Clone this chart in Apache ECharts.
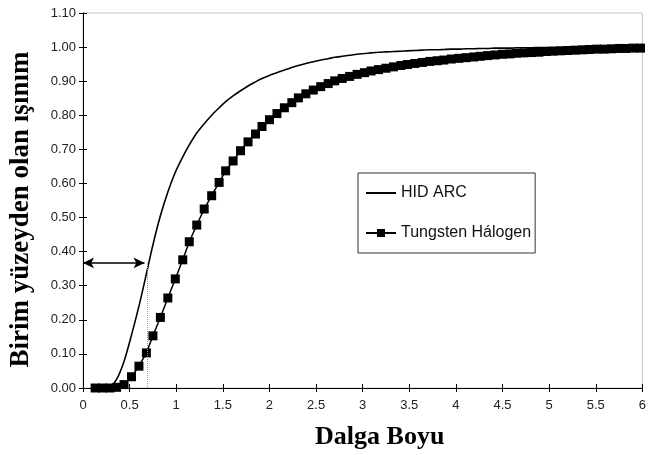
<!DOCTYPE html>
<html>
<head>
<meta charset="utf-8">
<title>Birim yüzeyden olan ışınım</title>
<script src="https://cdn.jsdelivr.net/npm/echarts@6/dist/echarts.min.js"></script>
<style>
  html, body { margin: 0; padding: 0; background: #fff; }
  #chart { width: 649px; height: 455px; }
</style>
</head>
<body>
<div id="chart"></div>
<script>
// dalga boyu (x) - ortak örnekleme noktaları
const waveLengths = [
  0.13, 0.21, 0.29, 0.36, 0.44, 0.52, 0.60, 0.68, 0.75, 0.83,
  0.91, 0.99, 1.07, 1.14, 1.22, 1.30, 1.38, 1.46, 1.53, 1.61,
  1.69, 1.77, 1.85, 1.92, 2.00, 2.08, 2.16, 2.24, 2.31, 2.39,
  2.47, 2.55, 2.63, 2.70, 2.78, 2.86, 2.94, 3.02, 3.09, 3.17,
  3.25, 3.33, 3.41, 3.48, 3.56, 3.64, 3.72, 3.80, 3.87, 3.95,
  4.03, 4.11, 4.19, 4.26, 4.34, 4.42, 4.50, 4.58, 4.65, 4.73,
  4.81, 4.89, 4.97, 5.04, 5.12, 5.20, 5.28, 5.36, 5.43, 5.51,
  5.59, 5.67, 5.75, 5.82, 5.90, 5.98
]

// HID ARC
const hidArc = [
  0, 0, 0.003, 0.025, 0.078, 0.155, 0.24, 0.335, 0.42, 0.505,
  0.575, 0.633, 0.678, 0.713, 0.748, 0.775, 0.80, 0.822, 0.840, 0.857,
  0.872, 0.886, 0.898, 0.908, 0.917, 0.925, 0.933, 0.940, 0.946, 0.952,
  0.957, 0.962, 0.966, 0.970, 0.973, 0.976, 0.979, 0.981, 0.983, 0.985,
  0.986, 0.987, 0.988, 0.989, 0.990, 0.991, 0.992, 0.992, 0.993, 0.994,
  0.994, 0.995, 0.995, 0.996, 0.996, 0.997, 0.997, 0.997, 0.998, 0.998,
  0.998, 0.999, 0.999, 0.999, 0.999, 1.0, 1.0, 1.0, 1.0, 1.0,
  1.0, 1.0, 1.0, 1.0, 1.0, 1.0
]

// Tungsten Hálogen
const tungsten = [
  0, 0, 0, 0.002, 0.01, 0.033, 0.064, 0.103, 0.153, 0.207,
  0.264, 0.32, 0.376, 0.429, 0.478, 0.525, 0.564, 0.603, 0.637, 0.666,
  0.696, 0.722, 0.745, 0.767, 0.787, 0.805, 0.822, 0.837, 0.851, 0.863,
  0.874, 0.884, 0.893, 0.901, 0.908, 0.914, 0.920, 0.925, 0.930, 0.934,
  0.938, 0.942, 0.946, 0.949, 0.952, 0.955, 0.958, 0.960, 0.962, 0.965,
  0.967, 0.969, 0.971, 0.973, 0.975, 0.977, 0.979, 0.980, 0.982, 0.983,
  0.984, 0.985, 0.987, 0.988, 0.989, 0.990, 0.991, 0.992, 0.993, 0.994,
  0.994, 0.995, 0.996, 0.996, 0.997, 0.997
]

// ok işareti: seviye, ok ucu ve noktalı dikey çizgi
const arrowLevel = [0.367]
const arrowSpan = [0, 0.66]
const dropLineX = [0.69]

const xTicks = { min: 0, max: 6, interval: 0.5 }
const yTicks = { min: 0, max: 1.1, interval: 0.1 }

const chart = echarts.init(document.getElementById("chart"))

const axisFont = { fontFamily: "Liberation Sans, Arial, sans-serif", fontSize: 13, color: "#222" }
const titleFont = { fontFamily: "Liberation Serif, Times New Roman, serif", fontWeight: "bold", color: "#000" }

const option = {
  animation: false,
  backgroundColor: "#fff",
  grid: {
    left: 83,
    right: 4,
    top: 13,
    bottom: 67,
    show: true,
    borderColor: "#c4c4c4",
    borderWidth: 1
  },
  legend: {
    orient: "vertical",
    left: 358,
    top: 173,
    padding: [12, 4, 12, 7],
    itemGap: 24,
    itemWidth: 30,
    itemHeight: 10,
    backgroundColor: "#fff",
    borderColor: "#333",
    borderWidth: 1,
    textStyle: { fontFamily: "Liberation Sans, Arial, sans-serif", fontSize: 16, color: "#111" },
    data: [
      { name: "HID ARC", itemStyle: { opacity: 0 } },
      { name: "Tungsten Hálogen" }
    ]
  },
  xAxis: [
    {
      type: "value",
      ...xTicks,
      name: "Dalga Boyu",
      nameLocation: "middle",
      nameGap: 36,
      nameTextStyle: { ...titleFont, fontSize: 26, padding: [0, 0, 0, 34] },
      splitLine: { show: false },
      axisLine: { lineStyle: { color: "#000", width: 1 } },
      axisTick: { length: 4, lineStyle: { color: "#000" } },
      axisLabel: { ...axisFont, margin: 11 }
    },
    {
      type: "value",
      ...xTicks,
      position: "bottom",
      offset: 0,
      splitLine: { show: false },
      axisLine: { show: false },
      axisTick: { inside: true, length: 4, lineStyle: { color: "#000" } },
      axisLabel: { show: false }
    }
  ],
  yAxis: [
    {
      type: "value",
      ...yTicks,
      name: "Birim yüzeyden olan ışınım",
      nameLocation: "middle",
      nameGap: 48,
      nameTextStyle: { ...titleFont, fontSize: 27, padding: [0, 18, 0, 0] },
      splitLine: { show: false },
      axisLine: { show: true, lineStyle: { color: "#000", width: 1 } },
      axisTick: { show: true, length: 4, lineStyle: { color: "#000" } },
      axisLabel: { ...axisFont, margin: 7, formatter: (v) => v.toFixed(2) }
    },
    {
      type: "value",
      ...yTicks,
      position: "left",
      offset: 0,
      splitLine: { show: false },
      axisLine: { show: false },
      axisTick: { show: true, inside: true, length: 4, lineStyle: { color: "#000" } },
      axisLabel: { show: false }
    }
  ],
  series: [
    {
      name: "HID ARC",
      type: "line",
      xAxisIndex: 0,
      yAxisIndex: 0,
      smooth: 0.3,
      symbol: "none",
      lineStyle: { color: "#000", width: 1.6 },
      itemStyle: { color: "#000" },
      data: waveLengths.map((x, i) => [x, hidArc[i]]),
      markLine: {
        silent: true,
        label: { show: false },
        data: [
          [
            { coord: [arrowSpan[0], arrowLevel[0]], symbol: "arrow", symbolSize: [8, 11] },
            { coord: [arrowSpan[1], arrowLevel[0]], symbol: "arrow", symbolSize: [8, 11] }
          ],
          [
            { coord: [dropLineX[0], 0], symbol: "none", lineStyle: { color: "#999", type: "dotted", width: 1 } },
            { coord: [dropLineX[0], arrowLevel[0]], symbol: "none" }
          ]
        ],
        lineStyle: { color: "#000", type: "solid", width: 1.5 }
      }
    },
    {
      name: "Tungsten Hálogen",
      type: "line",
      xAxisIndex: 0,
      yAxisIndex: 0,
      symbol: "rect",
      symbolSize: 9,
      lineStyle: { color: "#000", width: 1.5 },
      itemStyle: { color: "#000" },
      data: waveLengths.map((x, i) => [x, tungsten[i]])
    }
  ]
}

chart.setOption(option)
</script>
</body>
</html>
